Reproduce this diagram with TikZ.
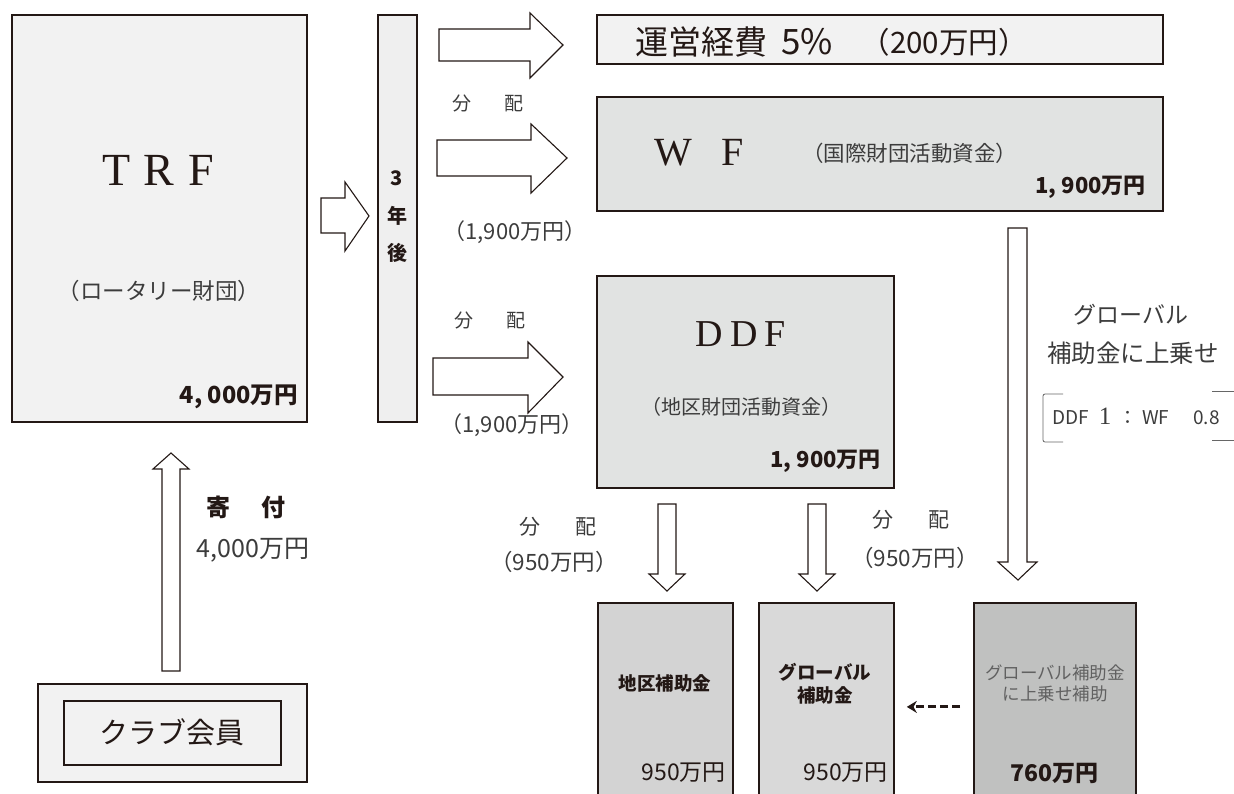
\documentclass[tikz,border=0pt]{standalone}
\usepackage{fontspec}
\setmainfont{Noto Sans CJK JP}
\newfontfamily\lserif{Liberation Serif}
\usetikzlibrary{arrows.meta}
\newcommand\myfs[1]{\fontsize{#1}{#1}\selectfont}
\definecolor{ink}{HTML}{231815}
\definecolor{lab}{HTML}{3C3C3C}
\definecolor{pale}{HTML}{F2F2F2}
\definecolor{barc}{HTML}{EFEFEF}
\definecolor{fund}{HTML}{E1E3E2}
\definecolor{gA}{HTML}{D3D3D3}
\definecolor{gB}{HTML}{D9D9D9}
\definecolor{gC}{HTML}{C0C1C0}
\tikzset{
  box/.style={draw=ink, line width=1.8pt, inner sep=0pt, anchor=north west},
  blk/.style={draw=ink, line width=1.1pt, fill=white, line join=miter},
  txt/.style={inner sep=0pt, text=ink},
  lbl/.style={inner sep=0pt, text=lab},
}
\begin{document}
\begin{tikzpicture}[x=1pt,y=-1pt]
\useasboundingbox (0,0) rectangle (1234,794);
\clip (0,0) rectangle (1234,794);
% ---------- boxes ----------
\node[box, fill=pale, minimum width=295pt, minimum height=407pt] (trf) at (11,14) {};
\node[box, fill=barc, minimum width=39pt, minimum height=407pt] (bar) at (377,14) {};
\node[box, fill=pale, minimum width=566pt, minimum height=49pt] (ops) at (596,14) {};
\node[box, fill=fund, minimum width=566pt, minimum height=114pt] (wf) at (596,96) {};
\node[box, fill=fund, minimum width=297pt, minimum height=212pt] (ddf) at (596,275) {};
\node[box, fill=gA, minimum width=135pt, minimum height=208pt] (b1) at (597,602) {};
\node[box, fill=gB, minimum width=135pt, minimum height=208pt] (b2) at (758,602) {};
\node[box, fill=gC, minimum width=162pt, minimum height=208pt] (b3) at (973,602) {};
\node[box, fill=pale, line width=1.6pt, minimum width=269pt, minimum height=98pt] (club) at (37,683) {};
\node[box, fill=pale, line width=1.6pt, minimum width=217pt, minimum height=64pt] (clubin) at (63,700) {};
% ---------- texts in boxes ----------
\node[txt, font=\lserif\myfs{46}] (trft) at (158,170) {T\hspace{13pt}R\hspace{14pt}F};
\node[txt, font=\myfs{22.5}, text=lab] (trfs) at (159,291) {（ロータリー財団）};
\node[txt, font=\bfseries\myfs{23.5}, anchor=east] (trfv) at (298,397) {4, 000万円};
\node[txt, font=\bfseries\myfs{20}] (y1) at (397,178) {3};
\node[txt, font=\bfseries\myfs{20}] (y2) at (397,216) {年};
\node[txt, font=\bfseries\myfs{20}] (y3) at (397,253) {後};
\node[txt, font=\myfs{33}, anchor=west] (opsa) at (635,42) {運営経費};
\node[txt, font=\myfs{35}, anchor=west] (opsb) at (781,42) {5\%};
\node[txt, font=\myfs{29.5}, anchor=east] (opsc) at (1028,42) {（200万円）};
\node[txt, font=\lserif\myfs{40}] (wft) at (699,153) {W\hspace{29pt}F};
\node[txt, font=\myfs{21.5}, text=lab, anchor=west] (wfs) at (802,153) {（国際財団活動資金）};
\node[txt, font=\bfseries\myfs{22}, anchor=east] (wfv) at (1146,187) {1, 900万円};
\node[txt, font=\lserif\myfs{38}] (ddft) at (741,334) {D\hspace{7pt}D\hspace{7pt}F};
\node[txt, font=\myfs{20}, text=lab] (ddfs) at (741,407) {（地区財団活動資金）};
\node[txt, font=\bfseries\myfs{22}, anchor=east] (ddfv) at (881,461) {1, 900万円};
\node[txt, font=\bfseries\myfs{18.5}] (b1t) at (665,683) {地区補助金};
\node[txt, font=\myfs{23}, anchor=east] (b1v) at (726,773) {950万円};
\node[txt, font=\bfseries\myfs{18.5}] (b2t) at (825,672) {グローバル};
\node[txt, font=\bfseries\myfs{18.5}] (b2u) at (825,695) {補助金};
\node[txt, font=\myfs{23}, anchor=east] (b2v) at (888,773) {950万円};
\node[txt, font=\myfs{17.5}, text=black!62] (b3t) at (1055,673) {グローバル補助金};
\node[txt, font=\myfs{17.5}, text=black!62] (b3u) at (1055,694) {に上乗せ補助};
\node[txt, font=\bfseries\myfs{23}] (b3v) at (1054,773) {760万円};
\node[txt, font=\myfs{29}] (clubt) at (172,732) {クラブ会員};
% ---------- labels ----------
\node[lbl, font=\myfs{19}] (d1) at (488,104) {分\hspace{1.7em}配};
\node[lbl, font=\myfs{22}] (m1) at (515,232) {（1,900万円）};
\node[lbl, font=\myfs{19}] (d2) at (490,320) {分\hspace{1.7em}配};
\node[lbl, font=\myfs{22}] (m2) at (512,425) {（1,900万円）};
\node[lbl, font=\myfs{21}] (d3) at (558,527) {分\hspace{1.7em}配};
\node[lbl, font=\myfs{22.5}] (m3) at (554,562) {（950万円）};
\node[lbl, font=\myfs{21}] (d4) at (911,520) {分\hspace{1.7em}配};
\node[lbl, font=\myfs{22.5}] (m4) at (915,558) {（950万円）};
\node[lbl, font=\myfs{23}] (g1) at (1131,315) {グローバル};
\node[lbl, font=\myfs{24.5}] (g2) at (1133,353) {補助金に上乗せ};
\node[lbl, font=\myfs{19}, anchor=west] (r1) at (1052,418) {DDF};
\node[lbl, font=\lserif\myfs{25}] (r2) at (1105,416) {1};
\node[lbl, font=\myfs{19}] (r3) at (1128,418) {：};
\node[lbl, font=\myfs{19}, anchor=west] (r4) at (1142,418) {WF};
\node[lbl, font=\myfs{19}, anchor=west] (r5) at (1193,418) {0.8};
\node[txt, font=\bfseries\myfs{24}] (don) at (246,507) {寄\hspace{1.3em}付};
\node[lbl, font=\myfs{25}] (donv) at (253,550) {4,000万円};
% bracket
\draw[black!60, line width=0.8pt, rounded corners=2pt] (1063,394) -- (1043,394) -- (1043,442) -- (1063,442);
\draw[black!60, line width=0.8pt] (1212,391) -- (1234,391) (1212,440) -- (1234,440);
% ---------- block arrows ----------
\draw[blk] (321,198) -- (345,198) -- (345,182) -- (369,216) -- (345,251) -- (345,233) -- (321,233) -- cycle;
\draw[blk] (439,29) -- (530,29) -- (530,13) -- (563,45) -- (530,78) -- (530,61) -- (439,61) -- cycle;
\draw[blk] (437,140) -- (531,140) -- (531,124) -- (567,158) -- (531,193) -- (531,176) -- (437,176) -- cycle;
\draw[blk] (433,358) -- (528,358) -- (528,342) -- (563,377) -- (528,413) -- (528,395) -- (433,395) -- cycle;
\draw[blk] (1008,228) -- (1027,228) -- (1027,562) -- (1037,562) -- (1018,580) -- (998,562) -- (1008,562) -- cycle;
\draw[blk] (658,504) -- (676,504) -- (676,574) -- (685,574) -- (667,591) -- (649,574) -- (658,574) -- cycle;
\draw[blk] (808,504) -- (826,504) -- (826,574) -- (835,574) -- (817,591) -- (799,574) -- (808,574) -- cycle;
\draw[blk] (162,671) -- (162,469) -- (153,469) -- (171,453) -- (189,469) -- (180,469) -- (180,671) -- cycle;
% dashed arrow
\draw[ink, line width=3pt, dash pattern=on 8pt off 4pt, -{Stealth[length=10pt,width=12pt]}] ([xshift=-13pt]b3.west) -- ([xshift=12pt]b2.east);
\end{tikzpicture}
\end{document}
